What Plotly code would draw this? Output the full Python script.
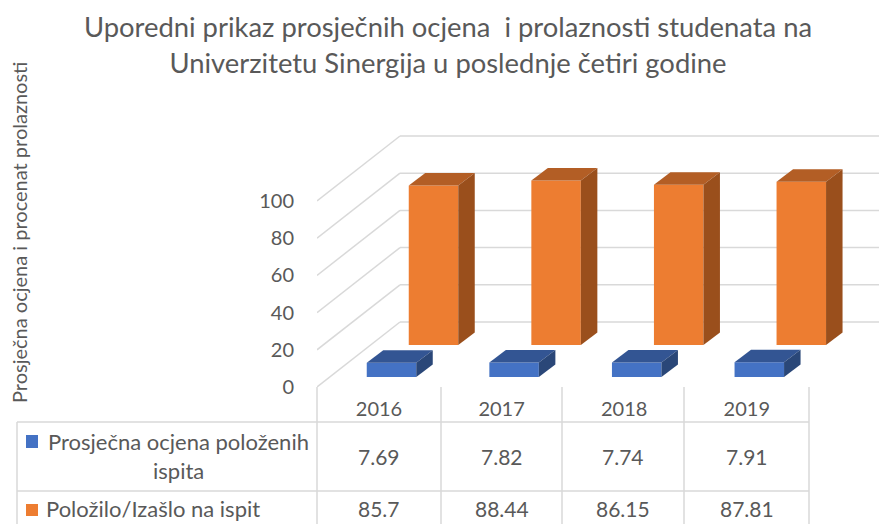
import plotly.graph_objects as go

godine = ["2016", "2017", "2018", "2019"]
ocjena = [7.69, 7.82, 7.74, 7.91]
prolaznost = [85.7, 88.44, 86.15, 87.81]
ocjena_tekst = ["7.69", "7.82", "7.74", "7.91"]
prolaznost_tekst = ["85.7", "88.44", "86.15", "87.81"]
y_ticks = [0, 20, 40, 60, 80, 100]

W, H = 879, 524
ML, MR, MT, MB = 317, 0, 120, 137
FONT = "Lato"
GRID = "#d9d9d9"
TEXT = "#595959"

# pomaci za "3D" izgled, u jedinicama osa
X_KORAK = 122.6
Y_JED = 1.86
x = list(range(len(godine)))
sirina = 49.5 / X_KORAK
dx_bar, dy_bar = 16.5 / X_KORAK, 12.5 / Y_JED
dx_zid, dy_zid = 83 / X_KORAK, 65 / Y_JED
x_lijevo = -62 / X_KORAK


def px(v):
    return (v - ML) / (W - ML - MR)


def py(v):
    return (H - MB - v) / (H - MT - MB)


def stub(fig, xs, baza, vrijednosti, boja, boja_vrh, boja_bok, ime):
    fig.add_trace(go.Bar(x=xs, y=vrijednosti, base=[baza] * len(xs), width=sirina, name=ime,
                         marker=dict(color=boja, line=dict(width=0)), showlegend=False))
    for xc, v in zip(xs, vrijednosti):
        x0, x1 = xc - sirina / 2, xc + sirina / 2
        vrh = baza + v
        fig.add_trace(go.Scatter(x=[x0, x1, x1 + dx_bar, x0 + dx_bar, x0],
                                 y=[vrh, vrh, vrh + dy_bar, vrh + dy_bar, vrh],
                                 mode="lines", fill="toself", fillcolor=boja_vrh, line=dict(width=0),
                                 hoverinfo="skip", showlegend=False))
        fig.add_trace(go.Scatter(x=[x1, x1 + dx_bar, x1 + dx_bar, x1, x1],
                                 y=[baza, baza + dy_bar, vrh + dy_bar, vrh, baza],
                                 mode="lines", fill="toself", fillcolor=boja_bok, line=dict(width=0),
                                 hoverinfo="skip", showlegend=False))


fig = go.Figure()
stub(fig, [i + 54.5 / X_KORAK for i in x], 42 / Y_JED, prolaznost, "#ED7D31", "#B35E25", "#9A4F1C",
     "Položilo/Izašlo na ispit")
stub(fig, [i + 12.5 / X_KORAK for i in x], 10 / Y_JED, ocjena, "#4472C4", "#335593", "#2A4778",
     "Prosječna ocjena položenih ispita")

# mreža: pod i lijevi zid, pa zadnji zid
shapes = []
x_kraj = (W - ML) / X_KORAK + x_lijevo
for t in y_ticks:
    shapes.append(dict(type="line", layer="below", xref="x", yref="y", x0=x_lijevo, y0=t,
                       x1=x_lijevo + dx_zid, y1=t + dy_zid, line=dict(color=GRID, width=1.5)))
    shapes.append(dict(type="line", layer="below", xref="x", yref="y", x0=x_lijevo + dx_zid, y0=t + dy_zid,
                       x1=x_kraj, y1=t + dy_zid, line=dict(color=GRID, width=1.5)))

# tabela podataka
kolone = [317, 441, 562, 684, 809]
for k in kolone:
    shapes.append(dict(type="line", xref="paper", yref="paper", x0=px(k), x1=px(k), y0=py(387), y1=py(H),
                       line=dict(color=GRID, width=1.5)))
shapes.append(dict(type="line", xref="paper", yref="paper", x0=px(17), x1=px(17), y0=py(422), y1=py(H),
                   line=dict(color=GRID, width=1.5)))
for r in [422, 491]:
    shapes.append(dict(type="line", xref="paper", yref="paper", x0=px(17), x1=px(809), y0=py(r), y1=py(r),
                       line=dict(color=GRID, width=1.5)))
shapes.append(dict(type="rect", xref="paper", yref="paper", x0=px(26), x1=px(38), y0=py(448), y1=py(435),
                   fillcolor="#4472C4", line=dict(width=0)))
shapes.append(dict(type="rect", xref="paper", yref="paper", x0=px(26), x1=px(38), y0=py(516), y1=py(504),
                   fillcolor="#ED7D31", line=dict(width=0)))


def tekst(t, xp, yp, size=21, angle=0):
    return dict(text=t, x=px(xp), y=py(yp), xref="paper", yref="paper", showarrow=False,
                font=dict(family=FONT, size=size, color=TEXT), textangle=angle,
                xanchor="center", yanchor="middle")


centri = [(a + b) / 2 for a, b in zip(kolone[:-1], kolone[1:])]
annotations = [
    tekst("Prosječna ocjena i procenat prolaznosti", 19, 233, size=20, angle=-90),
    tekst("Prosječna ocjena položenih", 178, 441, size=22),
    tekst("ispita", 178, 470, size=22),
    tekst("Položilo/Izašlo na ispit", 153, 508, size=22),
]
for c, a, b in zip(centri, ocjena_tekst, prolaznost_tekst):
    annotations.append(tekst(a, c, 456))
    annotations.append(tekst(b, c, 508))

fig.update_layout(
    width=W, height=H,
    margin=dict(l=ML, r=MR, t=MT, b=MB),
    paper_bgcolor="white", plot_bgcolor="white",
    barmode="overlay",
    showlegend=False,
    title=dict(text="Uporedni prikaz prosječnih ocjena  i prolaznosti studenata na<br>"
                    "Univerzitetu Sinergija u poslednje četiri godine",
               x=448 / W, xanchor="center", y=0.929, yanchor="top",
               font=dict(family=FONT, size=27.4, color=TEXT)),
    xaxis=dict(range=[x_lijevo, x_kraj], tickmode="array", tickvals=x, ticktext=godine,
               showgrid=False, zeroline=False, showline=False, ticks="", ticklabelstandoff=8,
               tickfont=dict(family=FONT, size=20, color=TEXT)),
    yaxis=dict(range=[0, (H - MB - MT) / Y_JED], tickmode="array", tickvals=y_ticks,
               showgrid=False, zeroline=False, showline=False, ticks="", ticklabelstandoff=22,
               tickfont=dict(family=FONT, size=20, color=TEXT)),
    shapes=shapes,
    annotations=annotations,
)

# bez margine stranice, da slika stane tačno u prozor
fig.write_html("out.html", config={"displayModeBar": False}, post_script="document.body.style.margin='0';")
